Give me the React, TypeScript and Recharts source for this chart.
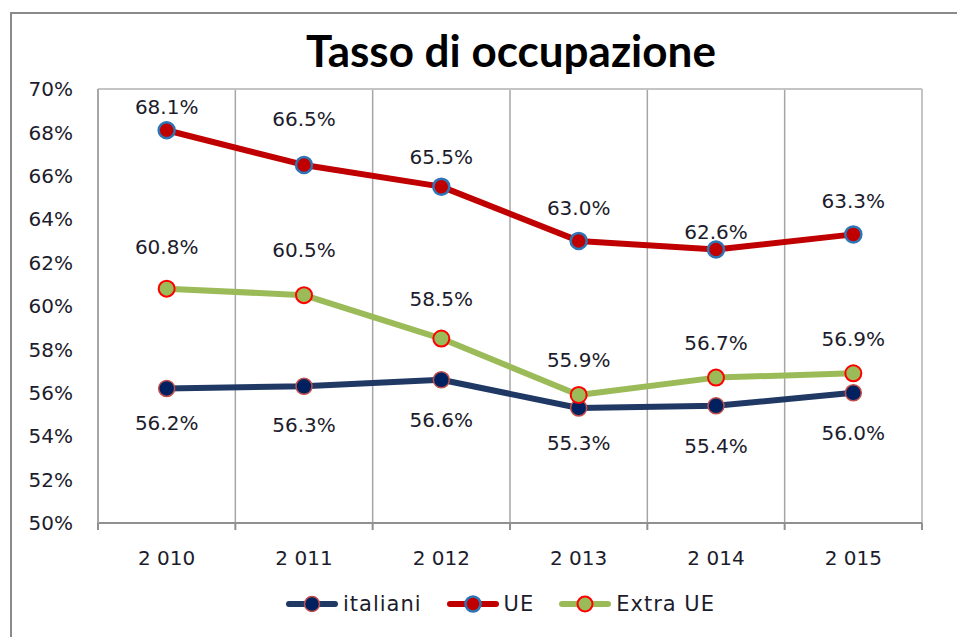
import React from 'react'
import { LineChart, Line, XAxis, YAxis, LabelList, Legend, ReferenceLine } from 'recharts'

const YEARS = ['2 010', '2 011', '2 012', '2 013', '2 014', '2 015']
const ITALIANI = [56.2, 56.3, 56.6, 55.3, 55.4, 56.0]
const UE = [68.1, 66.5, 65.5, 63.0, 62.6, 63.3]
const EXTRA_UE = [60.8, 60.5, 58.5, 55.9, 56.7, 56.9]
const Y_TICKS = [50, 52, 54, 56, 58, 60, 62, 64, 66, 68, 70]

// label nudges (px), the original labels were placed by hand
const ITALIANI_DY = [35, 39, 40, 35, 40, 40]
const UE_DY = [-23, -46, -30, -33, -18, -33]
const EXTRA_DY = [-42, -45, -40, -35, -35, -34]

const data = YEARS.map((year, i) => ({ i, year, italiani: ITALIANI[i], ue: UE[i], extra: EXTRA_UE[i] }))
const CAT_TICKS = YEARS.map((_, i) => i)
const EDGE_TICKS = [-0.5, ...YEARS.map((_, i) => i + 0.5)]
const INNER_EDGES = EDGE_TICKS.slice(1, -1)

const FONT = '"DejaVu Sans", Verdana, sans-serif'
const TXT = '#1c1c2c'
const GRID = '#a6a6a6'

const SERIES = [
  { key: 'italiani', name: 'italiani', line: '#1F3864', fill: '#002060', ring: '#C0504D', ringW: 1.5, dy: ITALIANI_DY },
  { key: 'ue', name: 'UE', line: '#C00000', fill: '#C00000', ring: '#2E75B6', ringW: 2.5, dy: UE_DY },
  { key: 'extra', name: 'Extra UE', line: '#9BBB59', fill: '#9BBB59', ring: '#FF0000', ringW: 2, dy: EXTRA_DY },
]

const pctLabel = (dys: number[]) => (p: any) => (
  <text x={p.x} y={p.y + dys[p.index]} textAnchor="middle" dominantBaseline="central"
    fontSize={20} fontFamily={FONT} fill={TXT}>
    {Number(p.value).toFixed(1)}%
  </text>
)

const renderLegend = () => (
  <div style={{ display: 'flex', justifyContent: 'center', gap: 24, fontFamily: FONT, fontSize: 21, color: TXT, letterSpacing: 1 }}>
    {SERIES.map(s => (
      <div key={s.key} style={{ display: 'flex', alignItems: 'center', gap: 4 }}>
        <svg width={54} height={22}>
          <line x1={4} x2={50} y1={11} y2={11} stroke={s.line} strokeWidth={6} strokeLinecap="round" />
          <circle cx={27} cy={11} r={7.5} fill={s.fill} stroke={s.ring} strokeWidth={s.ringW} />
        </svg>
        <span>{s.name}</span>
      </div>
    ))}
  </div>
)

export default function App() {
  return (
    <div style={{ position: 'absolute', left: 0, top: 0, width: 957, height: 637, overflow: 'hidden', background: '#fff' }}>
      <div style={{ position: 'absolute', left: 10, top: 12, width: 1100, height: 800, border: '2px solid #8a8a8a' }} />
      <div style={{ position: 'absolute', left: 0, top: 27, width: 1022, textAlign: 'center', fontFamily: 'Lato, sans-serif', fontWeight: 700, fontSize: 44, lineHeight: '46px', color: '#000' }}>
        Tasso di occupazione
      </div>
      <div style={{ position: 'absolute', left: 0, top: 0 }}>
        <LineChart width={957} height={637} data={data} margin={{ top: 89, right: 35, bottom: 67, left: 38 }}>
          <XAxis xAxisId="grid" type="number" dataKey="i" domain={[-0.5, 5.5]} ticks={EDGE_TICKS}
            tickFormatter={() => ''} tickSize={7} height={7} stroke="#909090" strokeWidth={2} allowDataOverflow />
          <XAxis xAxisId="lab" type="number" dataKey="i" domain={[-0.5, 5.5]} ticks={CAT_TICKS}
            tickFormatter={(v: number) => YEARS[v]} axisLine={false} tickLine={false} height={40} tickMargin={15}
            tick={{ fill: TXT, fontSize: 20, fontFamily: FONT }} allowDataOverflow />
          <YAxis domain={[50, 70]} ticks={Y_TICKS} tickFormatter={(v: number) => `${v}%`} width={60}
            tickLine={false} tickMargin={19} stroke={GRID} strokeWidth={2}
            tick={{ fill: TXT, fontSize: 20, fontFamily: FONT }} allowDataOverflow />
          {INNER_EDGES.map(x => (
            <ReferenceLine key={x} xAxisId="grid" x={x} stroke={GRID} strokeWidth={1.5} />
          ))}
          <ReferenceLine xAxisId="grid" x={5.5} stroke="#c4c4c4" strokeWidth={2} />
          <ReferenceLine xAxisId="grid" y={70} stroke="#c4c4c4" strokeWidth={2} />
          <Legend verticalAlign="middle" align="center" content={renderLegend}
            wrapperStyle={{ top: 592, left: 0, width: 1000 }} />
          {SERIES.map(s => (
            <Line key={s.key} xAxisId="lab" dataKey={s.key} name={s.name} stroke={s.line} strokeWidth={6}
              strokeLinejoin="round" isAnimationActive={false}
              dot={{ r: 8, fill: s.fill, stroke: s.ring, strokeWidth: s.ringW }} activeDot={false}>
              <LabelList dataKey={s.key} content={pctLabel(s.dy)} />
            </Line>
          ))}
        </LineChart>
      </div>
    </div>
  )
}
